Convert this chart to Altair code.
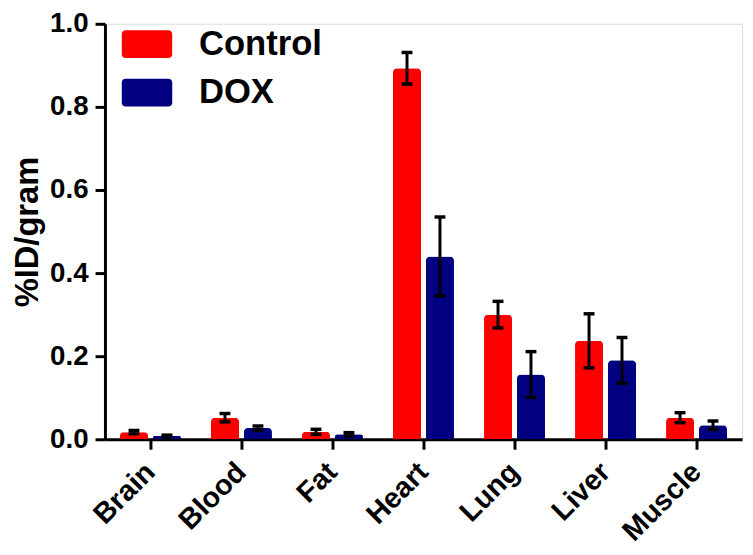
import altair as alt
import pandas as pd

organs = ["Brain", "Blood", "Fat", "Heart", "Lung", "Liver", "Muscle"]
groups = ["Control", "DOX"]
control = [0.017, 0.052, 0.018, 0.893, 0.300, 0.237, 0.052]
control_err = [0.004, 0.010, 0.006, 0.038, 0.032, 0.065, 0.012]
dox = [0.008, 0.027, 0.012, 0.440, 0.156, 0.190, 0.034]
dox_err = [0.002, 0.005, 0.004, 0.095, 0.055, 0.055, 0.010]
colors = ["#FF0000", "#000080"]
y_ticks = [0.0, 0.2, 0.4, 0.6, 0.8, 1.0]

rows = []
for i, o in enumerate(organs):
    rows.append({"Organ": o, "Group": "Control", "value": control[i],
                 "lo": control[i] - control_err[i], "hi": control[i] + control_err[i]})
    rows.append({"Organ": o, "Group": "DOX", "value": dox[i],
                 "lo": dox[i] - dox_err[i], "hi": dox[i] + dox_err[i]})
df = pd.DataFrame(rows)

FONT = "Liberation Sans"

x_enc = alt.X("Organ:N", sort=organs,
              scale=alt.Scale(paddingInner=0.33, paddingOuter=0.165),
              axis=alt.Axis(title=None, labelAngle=-45, labelAlign="right",
                            labelBaseline="middle", labelFontSize=29,
                            labelFontWeight="bold", labelFont=FONT,
                            labelColor="black", labelPadding=18,
                            tickSize=10, tickWidth=3, tickColor="black",
                            domainWidth=3, domainColor="black"))
xoff = alt.XOffset("Group:N", sort=groups,
                   scale=alt.Scale(paddingInner=0.15, paddingOuter=0))

rect_path = ("M-0.85,-0.55 L0.85,-0.55 A0.15,0.15 0 0 1 1,-0.4 L1,0.4 "
             "A0.15,0.15 0 0 1 0.85,0.55 L-0.85,0.55 A0.15,0.15 0 0 1 -1,0.4 "
             "L-1,-0.4 A0.15,0.15 0 0 1 -0.85,-0.55 Z")

color_enc = alt.Color("Group:N", sort=groups,
                      scale=alt.Scale(domain=groups, range=colors),
                      legend=alt.Legend(title=None, orient="none",
                                        legendX=17, legendY=-5,
                                        symbolType=rect_path, symbolSize=2601,
                                        symbolStrokeWidth=0, symbolOpacity=1,
                                        labelFontSize=35, labelFontWeight="bold",
                                        labelFont=FONT, labelColor="black",
                                        labelOffset=27, rowPadding=5,
                                        padding=0))

y_enc = alt.Y("value:Q",
              scale=alt.Scale(domain=[0, 1.0], nice=False),
              axis=alt.Axis(title="%ID/gram", values=y_ticks, format=".1f",
                            titleFontSize=33, titleFontWeight="bold",
                            titleFont=FONT, titleColor="black", titlePadding=5,
                            labelFontSize=28, labelFontWeight="bold",
                            labelFont=FONT, labelColor="black", labelPadding=7,
                            tickSize=10, tickWidth=3, tickColor="black",
                            domainWidth=3, domainColor="black", grid=False))

bars = alt.Chart(df).mark_bar(cornerRadiusTopLeft=4, cornerRadiusTopRight=4,
                              strokeWidth=0).encode(
    x=x_enc, xOffset=xoff, y=y_enc, color=color_enc)

rules = alt.Chart(df).mark_rule(color="black", strokeWidth=3).encode(
    x=alt.X("Organ:N", sort=organs), xOffset=xoff,
    y=alt.Y("lo:Q"), y2="hi:Q")

caps_hi = alt.Chart(df).mark_tick(color="black", size=11, thickness=3.5,
                                  opacity=1).encode(
    x=alt.X("Organ:N", sort=organs), xOffset=xoff, y=alt.Y("hi:Q"))
caps_lo = alt.Chart(df).mark_tick(color="black", size=11, thickness=3.5,
                                  opacity=1).encode(
    x=alt.X("Organ:N", sort=organs), xOffset=xoff, y=alt.Y("lo:Q"))

chart = alt.layer(bars, rules, caps_hi, caps_lo).properties(
    width=644, height=420,
    autosize=alt.AutoSizeParams(type="none"),
    padding={"left": 98, "top": 13, "right": 3, "bottom": 114},
).configure_view(stroke=None).configure(background="white")

chart.save("out.html", embed_options={"renderer": "svg", "actions": False})
